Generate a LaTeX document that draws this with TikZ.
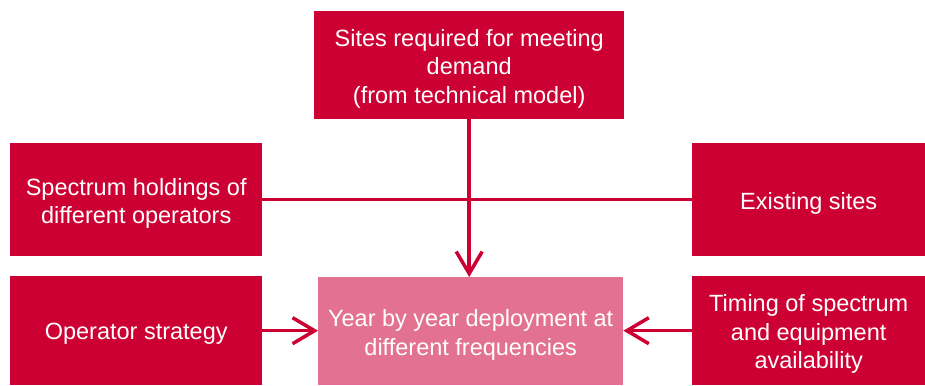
\documentclass[tikz,border=0pt]{standalone}
\usepackage{fontspec}
\setmainfont{Liberation Sans}
\usetikzlibrary{arrows.meta}
\definecolor{boxred}{HTML}{CC0033}
\definecolor{boxpink}{HTML}{E2728F}
\begin{document}
\begin{tikzpicture}[x=1pt,y=-1pt,
  boxtext/.style={text=white,inner sep=0pt,yshift=-3.5pt,
    font=\fontsize{23.5}{28.5}\selectfont,align=center},
  box/.style={fill=boxred,draw=none,inner sep=0pt,anchor=north west,
    label={[boxtext]center:#1}},
  result/.style={box=#1,fill=boxpink},
  link/.style={draw=boxred,line width=3.5pt},
  flow/.style={link,-{Straight Barb[length=22pt,width=26pt,line width=3.5pt]}}]
\useasboundingbox (0,0) rectangle (925,385);
% input boxes
\node[box={Sites required for meeting\\demand\\(from technical model)},
  minimum width=310pt,minimum height=108pt] (sites) at (314,11) {};
\node[box={Spectrum holdings of\\different operators},
  minimum width=252pt,minimum height=113pt] (spectrum) at (10,143) {};
\node[box={Existing sites},
  minimum width=233pt,minimum height=113pt] (existing) at (692,143) {};
\node[box={Operator strategy},
  minimum width=252pt,minimum height=109pt] (strategy) at (10,276) {};
\node[box={Timing of spectrum\\and equipment\\availability},
  minimum width=233pt,minimum height=109pt] (timing) at (692,276) {};
% output box
\node[result={Year by year deployment at\\different frequencies},
  minimum width=305pt,minimum height=108pt] (deploy) at (318,277) {};
% connectors
\draw[link] (spectrum.east) -- (existing.west);
\draw[flow] (sites.south) -- (sites.south |- deploy.north);
\draw[flow] (strategy.east) -- (deploy.west |- strategy.east);
\draw[flow] (timing.west) -- (deploy.east |- timing.west);
\end{tikzpicture}
\end{document}
